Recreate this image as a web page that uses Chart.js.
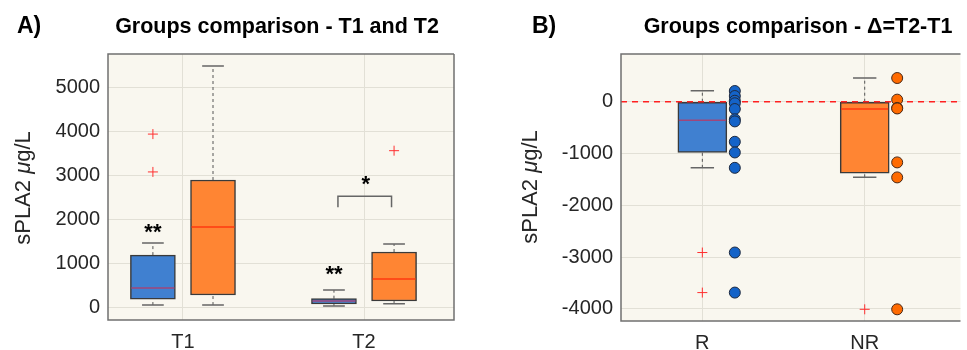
<!DOCTYPE html>
<html>
<head>
<meta charset="utf-8">
<script src="https://cdn.jsdelivr.net/npm/chart.js@4.4.1/dist/chart.umd.min.js"></script>
<style>
    body { margin: 0; background: #fff; font-family: "Liberation Sans", Arial, sans-serif; color: #262626; }
    #page { position: relative; width: 967px; height: 350px; overflow: hidden; }
    .panel { position: absolute; top: 0; height: 350px; }
    .tag { position: absolute; font-size: 23px; font-weight: bold; line-height: 23px; color: #000; }
    .title { position: absolute; width: 400px; text-align: center; font-size: 21.5px; font-weight: bold; line-height: 22px; color: #000; }
    .ylab { position: absolute; width: 200px; height: 24px; line-height: 24px; text-align: center; font-size: 22px; transform: rotate(-90deg); }
</style>
</head>
<body>
<div id="page">
    <div class="panel" style="left:0;width:480px"><canvas id="chartA" width="480" height="350"></canvas></div>
    <div class="panel" style="left:480px;width:487px"><canvas id="chartB" width="487" height="350"></canvas></div>

    <div class="tag" style="left:17px;top:14px">A)</div>
    <div class="title" style="left:77px;top:15px">Groups comparison - T1 and T2</div>
    <div class="ylab" style="left:-77px;top:176px">sPLA2 <i>μ</i>g/L</div>

    <div class="tag" style="left:532px;top:14px">B)</div>
    <div class="title" style="left:598px;top:15px">Groups comparison - Δ=T2-T1</div>
    <div class="ylab" style="left:430px;top:175px">sPLA2 <i>μ</i>g/L</div>
</div>

<script>
// ---- data ----
const groupsA = ['T1', 'T2'];
const groupsB = ['R', 'NR'];

// box summaries: [min, q1, median, q3, max]
const blueA = [[45, 180, 430, 1180, 1455], [25, 68, 136, 190, 386]];
const orangeA = [[45, 273, 1818, 2886, 5475], [75, 136, 636, 1250, 1432]];
const blueOutliersA = [[3930, 3070], []];
const orangeOutliersA = [[], [3553]];
const yTicksA = [0, 1000, 2000, 3000, 4000, 5000];

const blueB = [-1277, -980, -360, 0, 213];
const orangeB = [-1460, -1379, -141, 0, 458];
const blueOutliersB = [-2913, -3687];
const orangeOutliersB = [-4010];
const rPoints = [207, 110, 19, -30, -141, -340, -380, -774, -980, -1277, -2913, -3687];
const nrPoints = [458, 40, -120, -130, -1172, -1462, -4010];
const yTicksB = [-4000, -3000, -2000, -1000, 0];

// significance marks in panel A
const starText = ['**', '**', '*'];
const starY = [1750, 800, 2850];
const bracketY = [2270, 2520];

// ---- styling ----
const BLUE = '#4080d0';
const ORANGE = '#ff8533';
const BLUE_MED = '#a0467a';
const ORANGE_MED = '#ff3a10';
const BG = '#f9f7ef';
const GRID = '#e2e0d6';
const FRAME = '#707070';
const TXT = '#262626';
const FONT = '"Liberation Sans", Arial, sans-serif';

const shiftA = 0.166;   // side-by-side offset of the two boxes in panel A
const dotShiftB = 0.2;  // offset of the raw points in panel B

/**
 * Plugin that paints the plot background, the whiskers, medians and frame
 */
function boxPlugin(boxes, capHalf, extra) {
    return {
        id: 'boxes',
        beforeDraw(chart) {
            const a = chart.chartArea, ctx = chart.ctx;
            ctx.save();
            ctx.fillStyle = BG;
            ctx.fillRect(a.left, a.top, a.right - a.left, a.bottom - a.top);
            ctx.restore();
        },
        beforeDatasetsDraw(chart) {
            const xs = chart.scales.x, ys = chart.scales.y, ctx = chart.ctx;
            ctx.save();
            boxes.forEach(b => {
                const px = xs.getPixelForValue(b.pos);
                ctx.strokeStyle = '#555';
                ctx.lineWidth = 1;
                ctx.setLineDash([3, 3]);
                ctx.beginPath();
                ctx.moveTo(px, ys.getPixelForValue(b.s[3]));
                ctx.lineTo(px, ys.getPixelForValue(b.s[4]));
                ctx.moveTo(px, ys.getPixelForValue(b.s[0]));
                ctx.lineTo(px, ys.getPixelForValue(b.s[1]));
                ctx.stroke();
                ctx.setLineDash([]);
                ctx.strokeStyle = '#666';
                ctx.lineWidth = 1.5;
                ctx.beginPath();
                [b.s[0], b.s[4]].forEach(v => {
                    const py = ys.getPixelForValue(v);
                    ctx.moveTo(xs.getPixelForValue(b.pos - capHalf), py);
                    ctx.lineTo(xs.getPixelForValue(b.pos + capHalf), py);
                });
                ctx.stroke();
            });
            ctx.restore();
        },
        afterDatasetsDraw(chart) {
            const ys = chart.scales.y, ctx = chart.ctx;
            ctx.save();
            boxes.forEach(b => {
                const bar = chart.getDatasetMeta(b.ds).data[b.idx];
                const half = bar.width / 2 - 1;
                const py = ys.getPixelForValue(b.s[2]);
                ctx.strokeStyle = b.med;
                ctx.lineWidth = 1.5;
                ctx.beginPath();
                ctx.moveTo(bar.x - half, py);
                ctx.lineTo(bar.x + half, py);
                ctx.stroke();
            });
            ctx.restore();
        },
        afterDraw(chart) {
            const a = chart.chartArea, ctx = chart.ctx;
            ctx.save();
            ctx.strokeStyle = FRAME;
            ctx.lineWidth = 1.5;
            ctx.beginPath();
            ctx.moveTo(a.right, a.top);
            ctx.lineTo(a.left, a.top);
            ctx.lineTo(a.left, a.bottom);
            ctx.lineTo(a.right, a.bottom);
            if (!extra.openRight) ctx.lineTo(a.right, a.top);
            ctx.stroke();
            ctx.restore();
            if (extra.after) extra.after(chart);
        }
    };
}

function axisOptions(xMin, xMax, labels, yMin, yMax, yTicks, yWidth, xHeight) {
    return {
        x: {
            type: 'linear', min: xMin, max: xMax, offset: false,
            afterBuildTicks: s => { s.ticks = labels.map((l, i) => ({ value: i + 1 })); },
            afterFit: s => { s.height = xHeight; },
            ticks: { callback: v => labels[v - 1], color: TXT, font: { family: FONT, size: 20 }, padding: 10, maxRotation: 0 },
            grid: { color: GRID, drawTicks: false, offset: false },
            border: { display: false }
        },
        y: {
            min: yMin, max: yMax,
            afterBuildTicks: s => { s.ticks = yTicks.map(v => ({ value: v })); },
            afterFit: s => { s.width = yWidth; },
            ticks: { callback: v => String(v), color: TXT, font: { family: FONT, size: 20 }, padding: 8 },
            grid: { color: GRID, drawTicks: false },
            border: { display: false }
        }
    };
}

function outlierSet(points) {
    return {
        type: 'scatter', data: points, order: 1,
        pointStyle: 'cross', radius: 5, borderColor: '#ff3030', borderWidth: 1, backgroundColor: '#ff3030'
    };
}

const baseOptions = {
    animation: false,
    responsive: false,
    events: [],
    plugins: { legend: { display: false }, tooltip: { enabled: false }, title: { display: false } }
};

// ---- panel A ----
function drawChartA() {
    const boxes = [];
    blueA.forEach((s, i) => boxes.push({ pos: i + 1 - shiftA, s: s, ds: 0, idx: i, med: BLUE_MED }));
    orangeA.forEach((s, i) => boxes.push({ pos: i + 1 + shiftA, s: s, ds: 1, idx: i, med: ORANGE_MED }));

    const outliers = [];
    blueOutliersA.forEach((arr, i) => arr.forEach(v => outliers.push({ x: i + 1 - shiftA, y: v })));
    orangeOutliersA.forEach((arr, i) => arr.forEach(v => outliers.push({ x: i + 1 + shiftA, y: v })));

    const starX = [1 - shiftA, 2 - shiftA, 2.01];

    const plugin = boxPlugin(boxes, 0.06, {
        after(chart) {
            const xs = chart.scales.x, ys = chart.scales.y, ctx = chart.ctx;
            ctx.save();
            ctx.fillStyle = '#000';
            ctx.font = 'bold 22px ' + FONT;
            ctx.textAlign = 'center';
            ctx.textBaseline = 'middle';
            starText.forEach((t, i) => ctx.fillText(t, xs.getPixelForValue(starX[i]), ys.getPixelForValue(starY[i]) + 3));
            // bracket between the T2 boxes
            const x1 = xs.getPixelForValue(2 - shiftA + 0.022), x2 = xs.getPixelForValue(2 + shiftA - 0.014);
            const yLow = ys.getPixelForValue(bracketY[0]), yTop = ys.getPixelForValue(bracketY[1]);
            ctx.strokeStyle = '#666';
            ctx.lineWidth = 1.5;
            ctx.beginPath();
            ctx.moveTo(x1, yLow);
            ctx.lineTo(x1, yTop);
            ctx.lineTo(x2, yTop);
            ctx.lineTo(x2, yLow);
            ctx.stroke();
            ctx.restore();
        }
    });

    new Chart(document.getElementById('chartA'), {
        type: 'bar',
        data: {
            datasets: [
                {
                    data: blueA.map((s, i) => ({ x: i + 1 - shiftA, y: [s[1], s[3]] })),
                    backgroundColor: BLUE, borderColor: '#3a3a3a', borderWidth: 1.5, borderSkipped: false,
                    barThickness: 45, grouped: false, order: 3
                },
                {
                    data: orangeA.map((s, i) => ({ x: i + 1 + shiftA, y: [s[1], s[3]] })),
                    backgroundColor: ORANGE, borderColor: '#3a3a3a', borderWidth: 1.5, borderSkipped: false,
                    barThickness: 45, grouped: false, order: 3
                },
                outlierSet(outliers)
            ]
        },
        options: Object.assign({}, baseOptions, {
            layout: { padding: { left: 0, top: 54, right: 26, bottom: 0 } },
            scales: axisOptions(0.586, 2.497, groupsA, -295, 5750, yTicksA, 108, 30)
        }),
        plugins: [plugin]
    });
}

// ---- panel B ----
function drawChartB() {
    const xMin = 0.499, xMax = 2.59;
    const boxes = [
        { pos: 1, s: blueB, ds: 0, idx: 0, med: BLUE_MED },
        { pos: 2, s: orangeB, ds: 1, idx: 0, med: ORANGE_MED }
    ];
    const plugin = boxPlugin(boxes, 0.072, { openRight: true });

    new Chart(document.getElementById('chartB'), {
        type: 'bar',
        data: {
            datasets: [
                {
                    data: [{ x: 1, y: [blueB[1], blueB[3]] }],
                    backgroundColor: BLUE, borderColor: '#3a3a3a', borderWidth: 1.5, borderSkipped: false,
                    barThickness: 49, grouped: false, order: 4
                },
                {
                    data: [{ x: 2, y: [orangeB[1], orangeB[3]] }],
                    backgroundColor: ORANGE, borderColor: '#3a3a3a', borderWidth: 1.5, borderSkipped: false,
                    barThickness: 49, grouped: false, order: 4
                },
                {
                    // zero reference line
                    type: 'line', data: [{ x: xMin, y: 0 }, { x: xMax, y: 0 }], order: 3,
                    borderColor: '#ff2020', borderWidth: 1.5, borderDash: [6, 5], pointRadius: 0, fill: false
                },
                outlierSet(blueOutliersB.map(v => ({ x: 1, y: v })).concat(orangeOutliersB.map(v => ({ x: 2, y: v })))),
                {
                    type: 'scatter', data: rPoints.map(v => ({ x: 1 + dotShiftB, y: v })), order: 0,
                    pointStyle: 'circle', radius: 5.5, backgroundColor: '#1463c8', borderColor: '#1e2a40', borderWidth: 1
                },
                {
                    type: 'scatter', data: nrPoints.map(v => ({ x: 2 + dotShiftB, y: v })), order: 0,
                    pointStyle: 'circle', radius: 5.5, backgroundColor: '#ff6a00', borderColor: '#4a2a18', borderWidth: 1
                }
            ]
        },
        options: Object.assign({}, baseOptions, {
            layout: { padding: { left: 0, top: 54, right: 0, bottom: 0 } },
            scales: axisOptions(xMin, xMax, groupsB, -4236, 922, yTicksB, 141, 29)
        }),
        plugins: [plugin]
    });
}

document.addEventListener('DOMContentLoaded', function() {
    drawChartA();
    drawChartB();
});
</script>
</body>
</html>
